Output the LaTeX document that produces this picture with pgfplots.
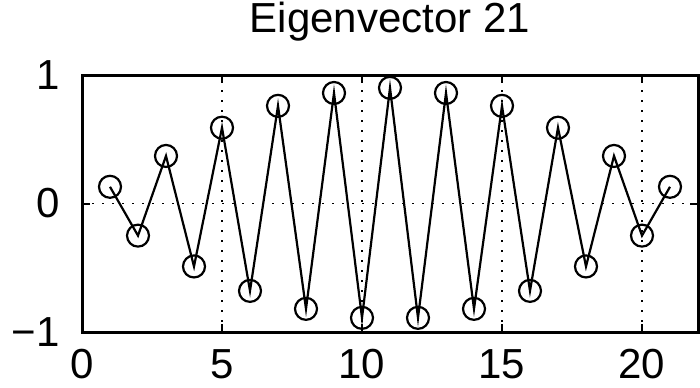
\documentclass[border=0pt]{standalone}
\usepackage{fontspec}
\setmainfont{Liberation Sans}
\usepackage{pgfplots}
\pgfplotsset{compat=1.18}
\begin{document}
\fontsize{21bp}{25bp}\selectfont
\begin{tikzpicture}
\begin{axis}[
  name=ax,
  scale only axis,
  width=308bp, height=128.5bp,
  xmin=0, xmax=22, ymin=-1, ymax=1,
  xtick={0,5,10,15,20},
  ytick={-1,0,1},
  yticklabels={−1,0,1},
  /pgf/number format/assume math mode=true,
  tick label style={font=\fontsize{21bp}{25bp}\selectfont},
  xticklabel style={yshift=-1.5bp},
  yticklabel style={xshift=-4bp},
  grid=major,
  grid style={black, line width=0.7bp, dash pattern=on 1.2bp off 3.8bp},
  axis line style={black, line width=1.5bp},
  tick style={black, line width=1bp},
  major tick length=4bp,
  tick align=inside,
  xtick pos=both, ytick pos=both,
  title={Eigenvector 21},
  title style={at={(0.5,1)}, anchor=base, yshift=15.5bp, font=\fontsize{21bp}{25bp}\selectfont},
]
\addplot[black, line width=1.1bp, mark=o, mark size=5.5bp, mark options={line width=1.1bp}] coordinates {
(1,0.13) (2,-0.25) (3,0.37) (4,-0.49) (5,0.59) (6,-0.68) (7,0.76) (8,-0.82) (9,0.86) (10,-0.89) (11,0.90)
(12,-0.89) (13,0.86) (14,-0.82) (15,0.76) (16,-0.68) (17,0.59) (18,-0.49) (19,0.37) (20,-0.25) (21,0.13)
};
\end{axis}
\pgfresetboundingbox
\path ([xshift=-41bp, yshift=-28bp]ax.south west) rectangle ([xshift=309bp, yshift=166bp]ax.south west);
\end{tikzpicture}
\end{document}
